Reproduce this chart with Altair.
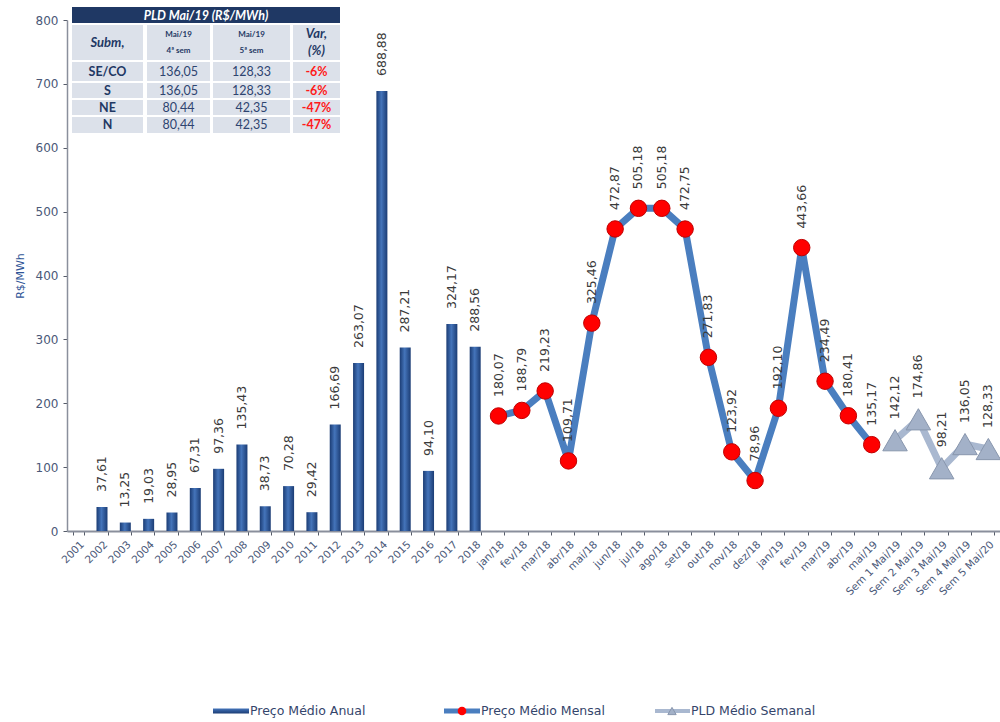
import altair as alt
import pandas as pd

# ---------------- data ----------------
years = ["2001", "2002", "2003", "2004", "2005", "2006", "2007", "2008", "2009",
         "2010", "2011", "2012", "2013", "2014", "2015", "2016", "2017", "2018"]
anual = [None, 37.61, 13.25, 19.03, 28.95, 67.31, 97.36, 135.43, 38.73,
         70.28, 29.42, 166.69, 263.07, 688.88, 287.21, 94.10, 324.17, 288.56]

months = ["jan/18", "fev/18", "mar/18", "abr/18", "mai/18", "jun/18", "jul/18",
          "ago/18", "set/18", "out/18", "nov/18", "dez/18", "jan/19", "fev/19",
          "mar/19", "abr/19", "mai/19"]
mensal = [180.07, 188.79, 219.23, 109.71, 325.46, 472.87, 505.18, 505.18, 472.75,
          271.83, 123.92, 78.96, 192.10, 443.66, 234.49, 180.41, 135.17]

weeks = ["Sem 1 Mai/19", "Sem 2 Mai/19", "Sem 3 Mai/19", "Sem 4 Mai/19", "Sem 5 Mai/20"]
semanal = [142.12, 174.86, 98.21, 136.05, 128.33]

tbl_title = "PLD Mai/19 (R$/MWh)"
tbl_subm = ["SE/CO", "S", "NE", "N"]
tbl_sem4 = ["136,05", "136,05", "80,44", "80,44"]
tbl_sem5 = ["128,33", "128,33", "42,35", "42,35"]
tbl_var = ["-6%", "-6%", "-47%", "-47%"]

legend_labels = ["Preço Médio Anual", "Preço Médio Mensal", "PLD Médio Semanal"]

cats_all = years + months + weeks

rows = []
for c, v in zip(years, anual):
    if v is not None:
        rows.append(dict(cat=c, value=v, series="anual"))
for c, v in zip(months, mensal):
    rows.append(dict(cat=c, value=v, series="mensal"))
for c, v in zip(weeks, semanal):
    rows.append(dict(cat=c, value=v, series="semanal"))
df = pd.DataFrame(rows)
df["label"] = df["value"].map(lambda v: f"{v:.2f}".replace(".", ","))

# ---------------- styles ----------------
FONT = "DejaVu Sans"
TFONT = "Lato"
AXC = "#4a5878"
NAVY = "#1f3864"
bar_grad = alt.Gradient(
    gradient="linear",
    stops=[alt.GradientStop(color="#1b3c74", offset=0),
           alt.GradientStop(color="#4474ba", offset=0.45),
           alt.GradientStop(color="#1b3c74", offset=1)],
    x1=0, x2=1, y1=0, y2=0)

x_enc = alt.X("cat:N", sort=cats_all,
              scale=alt.Scale(domain=cats_all, paddingInner=0.5, paddingOuter=0.25),
              axis=alt.Axis(title=None, labelAngle=-45, labelFontSize=10.5, labelFont=FONT,
                            labelColor=AXC, tickBand="extent", domainColor="#8a8f9c",
                            domainWidth=2, tickColor="#555b68", tickSize=4, labelPadding=4,
                            grid=False))
y_enc = alt.Y("value:Q", scale=alt.Scale(domain=[0, 800], nice=False, zero=True),
              axis=alt.Axis(title="R$/MWh", values=[0, 100, 200, 300, 400, 500, 600, 700, 800],
                            labelFontSize=12, labelFont=FONT, labelColor=AXC, grid=False,
                            domainColor="#8a8f9c", domainWidth=1.5, tickColor="#555b68",
                            tickSize=4, labelPadding=5, titleFont=FONT, titleFontSize=11,
                            titleFontWeight="normal", titleColor="#2f5597", titlePadding=10))

base = alt.Chart(df).encode(x=x_enc, y=y_enc)

bars = base.transform_filter("datum.series == 'anual'").mark_bar(color=bar_grad, width=11)
bar_lbl = base.transform_filter("datum.series == 'anual'").mark_text(
    angle=270, align="left", baseline="middle", yOffset=-15, font=FONT, fontSize=12.5,
    color="#3a3a3a").encode(text="label:N")

mline = base.transform_filter("datum.series == 'mensal'").mark_line(
    color="#4a7ebf", strokeWidth=7)
mpts = base.transform_filter("datum.series == 'mensal'").mark_circle(
    size=270, color="#ff0000", opacity=1, stroke="#c00000", strokeWidth=1)
m_lbl = base.transform_filter("datum.series == 'mensal'").mark_text(
    angle=270, align="left", baseline="middle", yOffset=-19, font=FONT, fontSize=12.5,
    color="#3a3a3a").encode(text="label:N")

wline = base.transform_filter("datum.series == 'semanal'").mark_line(
    color="#a9b8d0", strokeWidth=7)
wpts = base.transform_filter("datum.series == 'semanal'").mark_point(
    shape="triangle-up", filled=True, size=600, color="#a3b1c8", opacity=1,
    stroke="#8896ad", strokeWidth=1)
w_lbl = base.transform_filter("datum.series == 'semanal'").mark_text(
    angle=270, align="left", baseline="middle", yOffset=-21, font=FONT, fontSize=12.5,
    color="#3a3a3a").encode(text="label:N")

main = alt.layer(bars, bar_lbl, mline, mpts, m_lbl, wline, wpts, w_lbl)

# ---------------- overlay (table + legend) in page pixel scale ----------------
px = alt.Scale(domain=[0, 1000], range=[-67, 933], nice=False, zero=False)
py = alt.Scale(domain=[0, 722], range=[-20, 702], nice=False, zero=False)
OX = lambda f="x": alt.X(f"{f}:Q", scale=px, axis=None)
OY = lambda f="y": alt.Y(f"{f}:Q", scale=py, axis=None)

col_edges = [(72, 143), (147, 210), (213, 290), (293, 340)]
row_edges = [(25, 60), (62, 81), (83, 98), (100, 115), (117, 133)]
title_box = (72, 340, 7, 23)

cells = [dict(x=title_box[0], x2=title_box[1], y=title_box[2], y2=title_box[3], fill=NAVY)]
for (r0, r1) in row_edges:
    for (c0, c1) in col_edges:
        cells.append(dict(x=c0, x2=c1, y=r0, y2=r1, fill="#dce1ea"))
cells_df = pd.DataFrame(cells)
rects = alt.Chart(cells_df).mark_rect().encode(
    x=OX(), x2="x2:Q", y=OY(), y2="y2:Q", color=alt.Color("fill:N", scale=None))

cx = [(a + b) / 2 for a, b in col_edges]
ry = [(a + b) / 2 for a, b in row_edges[1:]]


def tlayer(recs, **kw):
    return alt.Chart(pd.DataFrame(recs)).mark_text(baseline="middle", align="center", **kw).encode(
        x=OX(), y=OY(), text="t:N")


t_title = tlayer([dict(x=(title_box[0] + title_box[1]) / 2, y=15.5, t=tbl_title)],
                 font=TFONT, fontSize=12.5, fontWeight="bold", fontStyle="italic", color="white")
t_hbig = tlayer([dict(x=cx[0], y=43, t="Subm,"), dict(x=cx[3], y=34, t="Var,"),
                 dict(x=cx[3], y=51, t="(%)")],
                font=TFONT, fontSize=13, fontWeight="bold", fontStyle="italic", color=NAVY)
t_hsmall = tlayer([dict(x=cx[1], y=35, t="Mai/19"), dict(x=cx[1], y=50.5, t="4ª sem"),
                   dict(x=cx[2], y=35, t="Mai/19"), dict(x=cx[2], y=50.5, t="5ª sem")],
                  font=TFONT, fontSize=8, fontWeight="bold", color=NAVY)
t_names = tlayer([dict(x=cx[0], y=y, t=t) for y, t in zip(ry, tbl_subm)],
                 font=TFONT, fontSize=12.5, fontWeight="bold", color=NAVY)
t_vals = tlayer([dict(x=cx[1], y=y, t=t) for y, t in zip(ry, tbl_sem4)] +
                [dict(x=cx[2], y=y, t=t) for y, t in zip(ry, tbl_sem5)],
                font=TFONT, fontSize=12.5, color="#2e4470")
t_var = tlayer([dict(x=cx[3], y=y, t=t) for y, t in zip(ry, tbl_var)],
               font=TFONT, fontSize=12.5, fontWeight="bold", color="#ff1a1a")

# legend
LY = 711
leg_bar = alt.Chart(pd.DataFrame([dict(x=213, x2=249, y=LY - 2.5, y2=LY + 2.5)])).mark_rect(
    color=alt.Gradient(gradient="linear",
                       stops=[alt.GradientStop(color="#4474ba", offset=0),
                              alt.GradientStop(color="#1b3c74", offset=1)],
                       x1=0, x2=0, y1=0, y2=1)).encode(x=OX(), x2="x2:Q", y=OY(), y2="y2:Q")
leg_l1 = alt.Chart(pd.DataFrame([dict(x=444, x2=480, y=LY)])).mark_rule(
    color="#4a7ebf", strokeWidth=5).encode(x=OX(), x2="x2:Q", y=OY())
leg_p1 = alt.Chart(pd.DataFrame([dict(x=462, y=LY)])).mark_circle(
    size=75, color="#ff0000", opacity=1).encode(x=OX(), y=OY())
leg_l2 = alt.Chart(pd.DataFrame([dict(x=655, x2=690, y=LY)])).mark_rule(
    color="#a9b8d0", strokeWidth=4).encode(x=OX(), x2="x2:Q", y=OY())
leg_p2 = alt.Chart(pd.DataFrame([dict(x=672, y=LY)])).mark_point(
    shape="triangle-up", filled=True, size=70, color="#a3b1c8", opacity=1,
    stroke="#8896ad", strokeWidth=1).encode(x=OX(), y=OY())
leg_txt = alt.Chart(pd.DataFrame([dict(x=x, y=LY, t=t) for x, t in zip([250, 481, 691], legend_labels)])
                    ).mark_text(align="left", baseline="middle", font=FONT, fontSize=12.5,
                                color="#34456b").encode(x=OX(), y=OY(), text="t:N")

overlay = alt.layer(rects, t_title, t_hbig, t_hsmall, t_names, t_vals, t_var,
                    leg_bar, leg_l1, leg_p1, leg_l2, leg_p2, leg_txt)

chart = alt.layer(main, overlay).resolve_scale(x="independent", y="independent").properties(
    width=933, height=511,
    padding={"left": 67, "top": 20, "right": 0, "bottom": 191},
    autosize=alt.AutoSizeParams(type="none"),
    background="white",
).configure_view(stroke=None)

chart.save("out.html", embed_options={"renderer": "svg", "actions": False})
